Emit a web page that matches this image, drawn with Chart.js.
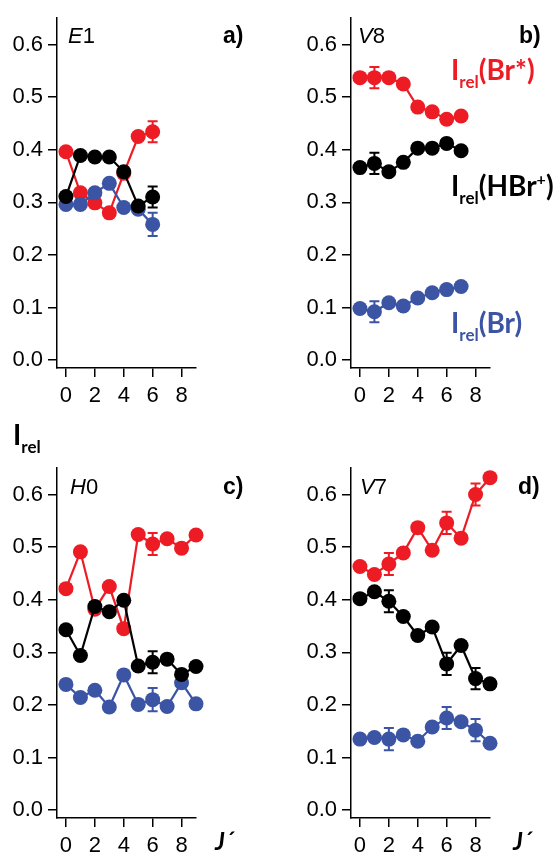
<!DOCTYPE html>
<html>
<head>
<meta charset="utf-8">
<script src="https://cdn.jsdelivr.net/npm/chart.js@4.4.1/dist/chart.umd.min.js"></script>
<style>
  html, body { margin: 0; padding: 0; background: #fff; }
  body { width: 556px; height: 853px; position: relative; overflow: hidden; }
  .panel { position: absolute; width: 262px; }
  .note { position: absolute; font-family: 'Liberation Sans', Arial, sans-serif; font-size: 22px; line-height: 1; color: #000; white-space: nowrap; z-index: 2; }
  .tag { position: absolute; font-family: 'Liberation Sans', Arial, sans-serif; font-weight: bold; font-size: 23px; line-height: 1; z-index: 2; }
  .lbl { position: absolute; font-family: Lato, 'Open Sans', sans-serif; font-weight: bold; font-size: 28px; line-height: 1; white-space: nowrap; z-index: 2; }
  .lbl .sub { font-size: 17px; position: relative; top: 8px; }
  .lbl .sup { font-size: 16px; position: relative; top: -11px; }
</style>
</head>
<body>
<div class="panel" style="left:0;top:0;height:410px"><canvas id="ca"></canvas></div>
<div class="panel" style="left:294px;top:0;height:410px"><canvas id="cb"></canvas></div>
<div class="panel" style="left:0;top:450px;height:403px"><canvas id="cc"></canvas></div>
<div class="panel" style="left:294px;top:450px;height:403px"><canvas id="cd"></canvas></div>

<div class="note" style="left:68px;top:25px"><i>E</i>1</div>
<div class="tag" style="left:223px;top:24px">a)</div>
<div class="note" style="left:358px;top:25px"><i>V</i>8</div>
<div class="tag" style="left:519px;top:24px">b)</div>
<div class="note" style="left:70px;top:476px"><i>H</i>0</div>
<div class="tag" style="left:223px;top:475px">c)</div>
<div class="note" style="left:360px;top:476px"><i>V</i>7</div>
<div class="tag" style="left:518px;top:475px">d)</div>

<div class="lbl" style="left:451px;top:55px;color:#ed1c24">I<span class="sub">rel</span>(Br*)</div>
<div class="lbl" style="left:451px;top:171px;color:#000">I<span class="sub">rel</span>(HBr<span class="sup">+</span>)</div>
<div class="lbl" style="left:451px;top:308px;color:#3b54a4">I<span class="sub">rel</span>(Br)</div>
<div class="lbl" style="left:13px;top:420px;color:#000">I<span class="sub">rel</span></div>

<div class="note" style="left:215px;top:829px;font-family:Lato,sans-serif;font-style:italic;font-weight:bold;font-size:24px">J´</div>
<div class="note" style="left:513px;top:829px;font-family:Lato,sans-serif;font-style:italic;font-weight:bold;font-size:24px">J´</div>

<script>
// axis ticks
const jTicks = [0, 2, 4, 6, 8];
const yTicks = [0.0, 0.1, 0.2, 0.3, 0.4, 0.5, 0.6];

// a) E1
const aJ = [0, 1, 2, 3, 4, 5, 6];
const aBrStar = [0.396, 0.318, 0.299, 0.280, 0.355, 0.425, 0.434];
const aBrStarErr = [null, null, null, null, null, null, 0.020];
const aHBr = [0.311, 0.389, 0.386, 0.386, 0.358, 0.293, 0.310];
const aHBrErr = [null, null, null, null, null, null, 0.020];
const aBr = [0.296, 0.296, 0.318, 0.336, 0.290, 0.287, 0.258];
const aBrErr = [null, null, null, null, null, null, 0.022];

// b) V8
const bJ = [0, 1, 2, 3, 4, 5, 6, 7];
const bBrStar = [0.537, 0.537, 0.537, 0.525, 0.481, 0.472, 0.458, 0.464];
const bBrStarErr = [null, 0.020, null, null, null, null, null, null];
const bHBr = [0.366, 0.374, 0.358, 0.376, 0.403, 0.403, 0.412, 0.398];
const bHBrErr = [null, 0.020, null, null, null, null, null, null];
const bBr = [0.098, 0.092, 0.109, 0.103, 0.118, 0.128, 0.134, 0.140];
const bBrErr = [null, 0.020, null, null, null, null, null, null];

// c) H0
const cJ = [0, 1, 2, 3, 4, 5, 6, 7, 8, 9];
const cBrStar = [0.421, 0.491, 0.382, 0.425, 0.345, 0.524, 0.506, 0.516, 0.498, 0.523];
const cBrStarErr = [null, null, null, null, null, null, 0.021, null, null, null];
const cHBr = [0.343, 0.294, 0.387, 0.377, 0.399, 0.274, 0.281, 0.287, 0.258, 0.273];
const cHBrErr = [null, null, null, null, null, null, 0.021, null, null, null];
const cBr = [0.239, 0.214, 0.228, 0.196, 0.257, 0.201, 0.210, 0.197, 0.242, 0.202];
const cBrErr = [null, null, null, null, null, null, 0.022, null, null, null];

// d) V7
const dJ = [0, 1, 2, 3, 4, 5, 6, 7, 8, 9];
const dBrStar = [0.463, 0.448, 0.468, 0.489, 0.537, 0.494, 0.546, 0.517, 0.600, 0.632];
const dBrStarErr = [null, null, 0.021, null, null, null, 0.021, null, 0.021, null];
const dHBr = [0.402, 0.415, 0.397, 0.368, 0.332, 0.348, 0.278, 0.313, 0.250, 0.240];
const dHBrErr = [null, null, 0.021, null, null, null, 0.021, null, 0.020, null];
const dBr = [0.135, 0.138, 0.135, 0.143, 0.131, 0.158, 0.175, 0.168, 0.152, 0.127];
const dBrErr = [null, null, 0.021, null, null, null, 0.021, null, 0.021, null];

const RED = '#ed1c24', BLACK = '#000000', BLUE = '#3b54a4';

Chart.defaults.font.family = "'Liberation Sans', Arial, sans-serif";
Chart.defaults.font.size = 22;
Chart.defaults.color = '#000';

// vertical error bars with caps
const errorBars = {
    id: 'errorBars',
    afterDatasetDraw(chart, args) {
        const ds = chart.data.datasets[args.index];
        if (!ds.errors) return;
        const ctx = chart.ctx;
        const y = chart.scales.y;
        ctx.save();
        ctx.strokeStyle = ds.borderColor;
        ctx.lineWidth = 2;
        args.meta.data.forEach((pt, i) => {
            const e = ds.errors[i];
            if (e == null) return;
            const v = ds.data[i].y;
            const top = y.getPixelForValue(v + e);
            const bot = y.getPixelForValue(v - e);
            ctx.beginPath();
            ctx.moveTo(pt.x, top); ctx.lineTo(pt.x, bot);
            ctx.moveTo(pt.x - 5, top); ctx.lineTo(pt.x + 5, top);
            ctx.moveTo(pt.x - 5, bot); ctx.lineTo(pt.x + 5, bot);
            ctx.stroke();
        });
        ctx.restore();
    }
};

function series(xs, ys, errs, color, order) {
    return {
        data: xs.map((x, i) => ({ x: x, y: ys[i] })),
        errors: errs,
        showLine: true,
        borderColor: color,
        backgroundColor: color,
        borderWidth: 2.2,
        pointRadius: 7.5,
        pointBorderWidth: 0,
        pointBackgroundColor: color,
        clip: false,
        order: order
    };
}

function panel(id, xs, brStar, brStarErr, hbr, hbrErr, br, brErr, canvasH) {
    const ctx = document.getElementById(id).getContext('2d');
    new Chart(ctx, {
        type: 'scatter',
        data: {
            datasets: [
                series(xs, hbr, hbrErr, BLACK, 1),
                series(xs, br, brErr, BLUE, 2),
                series(xs, brStar, brStarErr, RED, 3)
            ]
        },
        options: {
            responsive: true,
            maintainAspectRatio: false,
            animation: false,
            events: [],
            layout: { padding: { top: 12, right: 66, left: 0, bottom: 0 } },
            plugins: { legend: { display: false }, tooltip: { enabled: false } },
            scales: {
                x: {
                    type: 'linear',
                    min: -0.62,
                    max: 9.0,
                    afterBuildTicks: (s) => { s.ticks = jTicks.map(v => ({ value: v })); },
                    afterFit: (s) => { s.height = canvasH - 368; },
                    border: { display: true, color: '#000', width: 1.5 },
                    grid: { drawOnChartArea: false, drawTicks: true, tickLength: 9, tickColor: '#000', lineWidth: 1.5 },
                    ticks: { padding: 6, maxRotation: 0, autoSkip: false, callback: v => String(v) }
                },
                y: {
                    type: 'linear',
                    min: -0.015,
                    max: 0.65,
                    afterBuildTicks: (s) => { s.ticks = yTicks.map(v => ({ value: v })); },
                    afterFit: (s) => { s.width = 57; },
                    border: { display: true, color: '#000', width: 1.5 },
                    grid: { drawOnChartArea: false, drawTicks: true, tickLength: 9, tickColor: '#000', lineWidth: 1.5 },
                    ticks: { padding: 5, autoSkip: false, callback: v => v.toFixed(1) }
                }
            }
        },
        plugins: [errorBars]
    });
}

panel('ca', aJ, aBrStar, aBrStarErr, aHBr, aHBrErr, aBr, aBrErr, 410);
panel('cb', bJ, bBrStar, bBrStarErr, bHBr, bHBrErr, bBr, bBrErr, 410);
panel('cc', cJ, cBrStar, cBrStarErr, cHBr, cHBrErr, cBr, cBrErr, 403);
panel('cd', dJ, dBrStar, dBrStarErr, dHBr, dHBrErr, dBr, dBrErr, 403);
</script>
</body>
</html>
